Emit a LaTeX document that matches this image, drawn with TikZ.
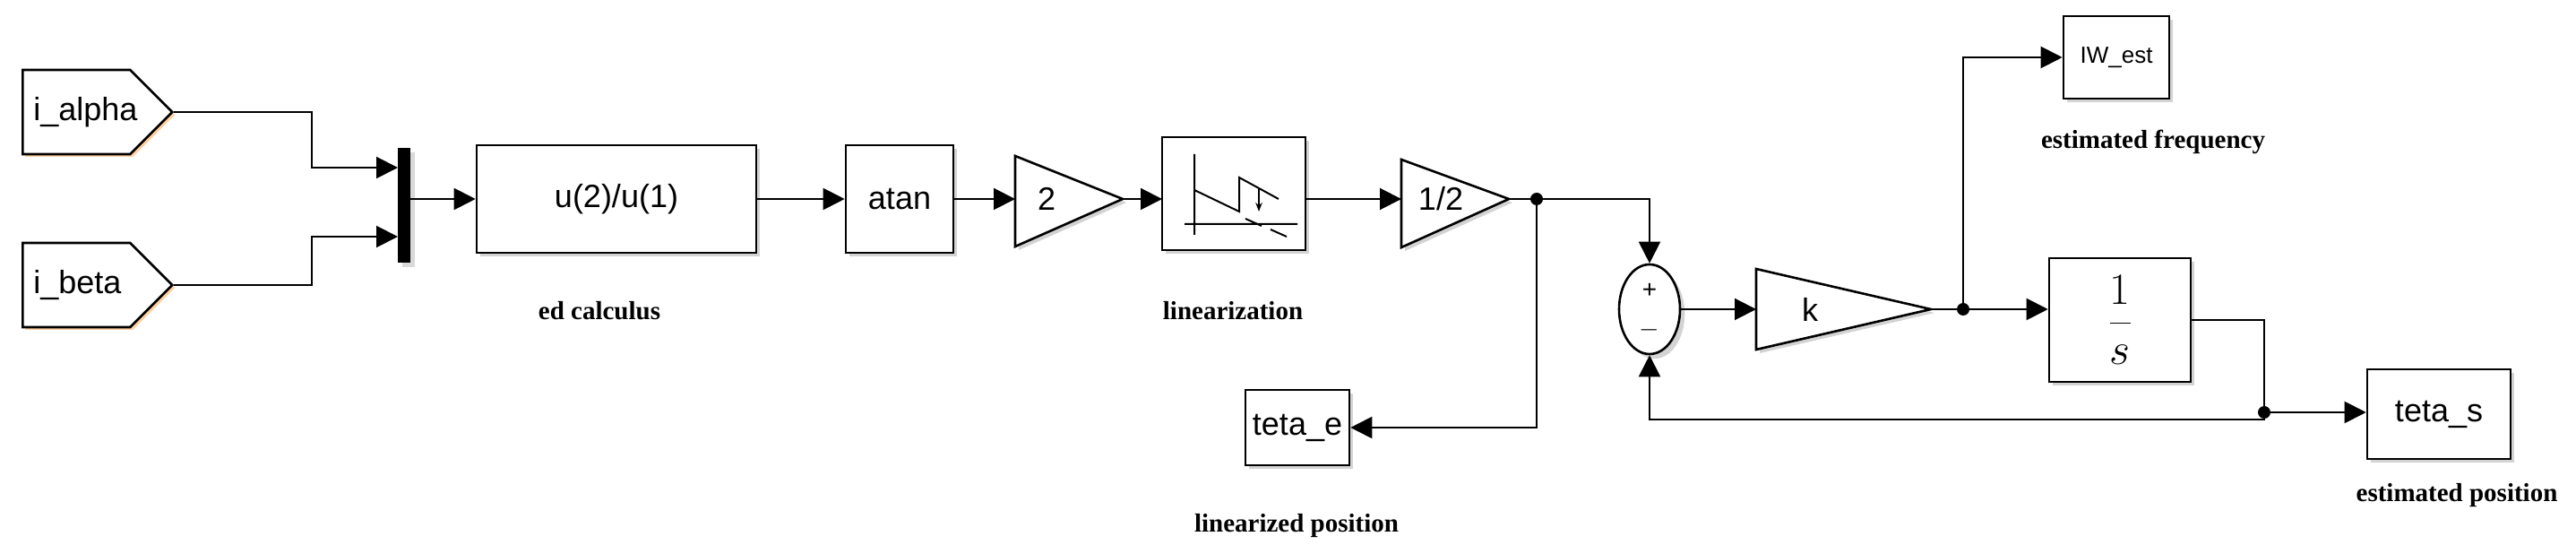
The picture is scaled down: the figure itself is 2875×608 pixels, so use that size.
\documentclass[tikz,border=0pt]{standalone}
\usepackage{fontspec}
\setmainfont{Liberation Sans}
\newfontfamily\lbl{Liberation Serif}
\usetikzlibrary{arrows.meta,shadows,shapes.symbols,shapes.geometric}
\begin{document}
\begin{tikzpicture}[x=0.5pt,y=-0.5pt,
  blk/.style={draw,line width=1.3pt,fill=white,drop shadow={opacity=0.35,shadow xshift=2pt,shadow yshift=-2pt},font=\fontsize{18}{20}\selectfont,inner sep=0pt},
  port/.style={signal,signal to=east,draw,line width=1.3pt,fill=white,font=\fontsize{18}{20}\selectfont,minimum width=65pt,minimum height=47pt,inner xsep=6pt,inner ysep=0pt,text width=48pt,align=left,drop shadow={color=orange!60,opacity=0.6,shadow xshift=1.5pt,shadow yshift=-1.5pt}},
  gain/.style={line width=1.3pt,fill=white,drop shadow={opacity=0.35,shadow xshift=2pt,shadow yshift=-2pt}},
  w/.style={line width=1pt,-{Triangle[length=12pt,width=12pt]}},
  ln/.style={line width=1pt},
  dot/.style={circle,fill=black,inner sep=0pt,minimum size=7pt},
  lab/.style={font=\lbl\bfseries\fontsize{14.5}{16}\selectfont}]
\useasboundingbox (0,0) rectangle (2875,608);
% inports
\node[port,anchor=west] (ia) at (24,125) {i\_alpha};
\node[port,anchor=west] (ib) at (24,318) {i\_beta};
% mux
\node[fill=black,minimum width=7pt,minimum height=64pt,inner sep=0pt,drop shadow={opacity=0.3}] (mux) at (451,229) {};
\coordinate (mxa) at (444,187);
\coordinate (mxb) at (444,264);
\draw[w] (ia.east) -| (348,187) -- (mxa);
\draw[w] (ib.east) -| (348,264) -- (mxb);
% fcn
\node[blk,minimum width=156pt,minimum height=60pt] (fcn) at (688,222) {u(2)/u(1)};
\draw[w] (mux.east |- fcn) -- (fcn.west);
\node[lab] (l1) at (669,347) {ed calculus};
\node[blk,minimum width=60pt,minimum height=60pt] (atan) at (1004,222) {atan};
\draw[w] (fcn) -- (atan);
% gain 2
\coordinate (g2a) at (1133,174); \coordinate (g2b) at (1133,275); \coordinate (g2o) at (1253,222);
\filldraw[gain] (g2a) -- (g2o) -- (g2b) -- cycle;
\node[font=\fontsize{18}{20}\selectfont] (g2t) at (1168,222) {2};
\draw[w] (atan.east) -- (g2a |- atan);
% linearization
\node[blk,minimum width=80pt,minimum height=63pt] (lin) at (1377,216) {};
\draw[line width=1pt] (1333,172) -- (1333,262) (1322,250) -- (1448,250)
  (1333,212) -- (1383,236) -- (1383,198) -- (1427,222)
  (1390,244) -- (1408,252) (1418,256) -- (1436,264);
\draw[line width=1pt,-{Stealth[length=5pt]}] (1405,210) -- (1405,236);
\draw[w] (g2o) -- (1297,222);
\node[lab] (l2) at (1376,347) {linearization};
% gain 1/2
\coordinate (g3a) at (1564,178); \coordinate (g3b) at (1564,276); \coordinate (g3o) at (1684,222);
\filldraw[gain] (g3a) -- (g3o) -- (g3b) -- cycle;
\node[font=\fontsize{18}{20}\selectfont] (g3t) at (1608,222) {1/2};
\draw[w] (lin.east |- 0,222) -- (g3a |- 0,222);
\node[dot] (d1) at (1715,222) {};
\draw[ln] (g3o) -- (d1);
% sum
\node[ellipse,draw,line width=1.3pt,fill=white,minimum width=34pt,minimum height=50pt,inner sep=0pt,drop shadow={opacity=0.35}] (sum) at (1841,345) {};
\node[font=\fontsize{14}{14}\selectfont] (sp) at (1841,324) {+};
\node[font=\fontsize{14}{14}\selectfont] (sm) at (1841,368) {$-$};
\draw[w] (d1) -| (sum.north);
% teta_e
\node[blk,minimum width=58pt,minimum height=42pt] (te) at (1448,477) {teta\_e};
\draw[w] (d1) |- (te.east);
\node[lab] (l3) at (1447,587) {linearized position};
% k
\coordinate (ka) at (1960,300); \coordinate (kb) at (1960,390); \coordinate (ko) at (2155,345);
\filldraw[gain] (ka) -- (ko) -- (kb) -- cycle;
\node[font=\fontsize{18}{20}\selectfont] (kt) at (2020,345) {k};
\draw[w] (sum.east) -- (ka |- sum);
\node[dot] (d2) at (2191,345) {};
\draw[ln] (ko) -- (d2);
% IW_est
\node[blk,minimum width=59pt,minimum height=46pt,font=\fontsize{13}{15}\selectfont] (iw) at (2362,64) {IW\_est};
\draw[w] (d2) |- (iw.west);
\node[lab] (l4) at (2403,158) {estimated frequency};
% integrator
\node[blk,minimum width=79pt,minimum height=69pt,font=\fontsize{24}{26}\selectfont] (int) at (2366,357) {$\displaystyle\frac{1}{s}$};
\draw[w] (d2) -- (int.west |- d2);
\node[dot] (d3) at (2527,460) {};
\draw[ln] (int.east |- 0,357) -| (d3);
% teta_s
\node[blk,minimum width=80pt,minimum height=50pt] (ts) at (2722,462) {teta\_s};
\draw[w] (d3) -- (ts.west |- d3);
\draw[w] (d3) |- (1841,468) -- (sum.south);
\node[lab] (l5) at (2742,553) {estimated position};
\end{tikzpicture}
\end{document}
